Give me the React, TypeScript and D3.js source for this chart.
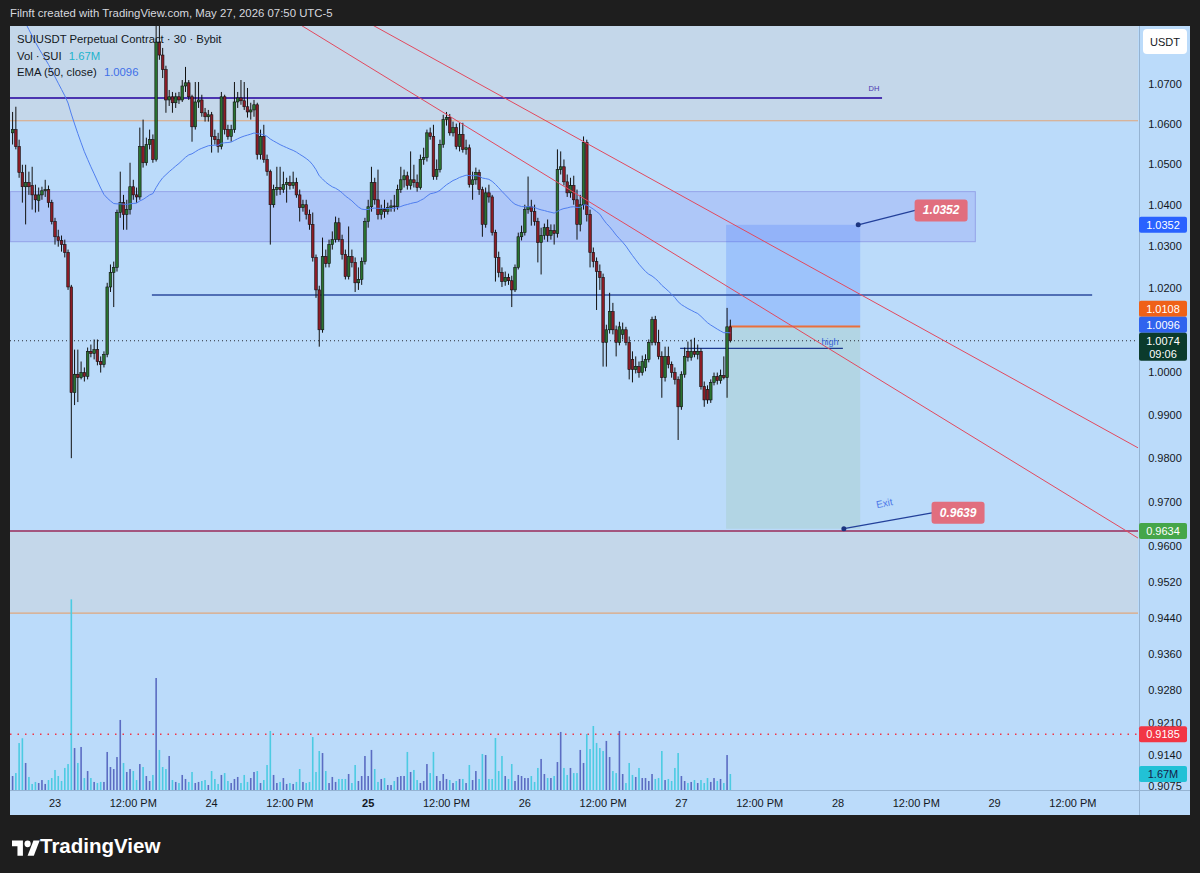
import React from 'react';
import * as d3 from 'd3';

// ---------- DATA ----------
const BAR_MS = 30 * 60 * 1000;
const T0 = Date.UTC(2026, 4, 23, 0, 0); // bar index 0 = May 23 00:00
const FIRST_BAR = -13;

// [open, high, low, close], 30-min bars, SUIUSDT
const candles: [number, number, number, number][] = [
  [1.0578,1.0630,1.0549,1.0586],[1.0586,1.0643,1.0537,1.0544],[1.0544,1.0561,1.0467,1.0480],[1.0480,1.0499,1.0406,1.0445],
  [1.0445,1.0499,1.0353,1.0455],[1.0455,1.0482,1.0425,1.0445],[1.0448,1.0494,1.0389,1.0425],[1.0425,1.0450,1.0382,1.0413],
  [1.0411,1.0443,1.0384,1.0425],[1.0425,1.0445,1.0413,1.0435],[1.0435,1.0462,1.0420,1.0438],[1.0438,1.0448,1.0394,1.0406],
  [1.0406,1.0413,1.0353,1.0360],
  [1.0360,1.0369,1.0304,1.0323],[1.0323,1.0340,1.0299,1.0314],[1.0314,1.0326,1.0287,1.0304],[1.0304,1.0316,1.0273,1.0285],
  [1.0285,1.0292,1.0195,1.0202],[1.0202,1.0207,0.9800,0.9952],[0.9952,1.0053,0.9923,0.9995],[0.9995,1.0053,0.9930,0.9987],
  [0.9987,1.0025,0.9983,0.9999],[0.9999,1.0011,0.9978,0.9990],[0.9990,1.0058,0.9983,1.0049],[1.0049,1.0065,1.0035,1.0044],
  [1.0044,1.0077,1.0030,1.0053],[1.0053,1.0077,1.0016,1.0025],[1.0025,1.0037,0.9999,1.0018],[1.0018,1.0049,1.0011,1.0042],
  [1.0042,1.0212,1.0035,1.0202],[1.0202,1.0256,1.0190,1.0237],[1.0237,1.0263,1.0154,1.0249],[1.0249,1.0389,1.0239,1.0382],
  [1.0382,1.0482,1.0369,1.0406],[1.0406,1.0425,1.0340,1.0377],[1.0377,1.0413,1.0340,1.0389],[1.0389,1.0504,1.0377,1.0445],
  [1.0445,1.0462,1.0413,1.0425],[1.0425,1.0443,1.0406,1.0420],[1.0420,1.0591,1.0413,1.0544],[1.0544,1.0611,1.0492,1.0504],
  [1.0504,1.0566,1.0497,1.0549],[1.0549,1.0586,1.0537,1.0561],[1.0561,1.0574,1.0504,1.0512],[1.0512,1.0852,1.0507,1.0806],
  [1.0806,1.0847,1.0761,1.0773],[1.0773,1.0791,1.0715,1.0736],[1.0736,1.0746,1.0628,1.0660],[1.0660,1.0685,1.0645,1.0668],
  [1.0668,1.0680,1.0628,1.0653],[1.0653,1.0678,1.0640,1.0668],[1.0668,1.0680,1.0650,1.0660],[1.0660,1.0710,1.0655,1.0695],
  [1.0695,1.0743,1.0680,1.0703],[1.0703,1.0710,1.0660,1.0668],[1.0668,1.0673,1.0556,1.0593],[1.0593,1.0705,1.0586,1.0655],
  [1.0655,1.0705,1.0640,1.0660],[1.0660,1.0673,1.0618,1.0628],[1.0628,1.0640,1.0606,1.0618],[1.0618,1.0635,1.0606,1.0623],
  [1.0623,1.0630,1.0529,1.0569],[1.0569,1.0586,1.0549,1.0561],[1.0561,1.0578,1.0529,1.0544],[1.0544,1.0680,1.0537,1.0668],
  [1.0668,1.0673,1.0574,1.0586],[1.0586,1.0598,1.0561,1.0569],[1.0569,1.0598,1.0556,1.0586],[1.0586,1.0705,1.0578,1.0655],
  [1.0655,1.0680,1.0640,1.0665],[1.0665,1.0710,1.0648,1.0658],[1.0658,1.0705,1.0635,1.0643],[1.0643,1.0690,1.0616,1.0630],
  [1.0630,1.0653,1.0611,1.0635],[1.0635,1.0660,1.0618,1.0648],[1.0648,1.0653,1.0512,1.0524],[1.0524,1.0586,1.0512,1.0569],
  [1.0569,1.0598,1.0504,1.0512],[1.0512,1.0524,1.0472,1.0482],[1.0482,1.0487,1.0304,1.0401],[1.0401,1.0450,1.0394,1.0438],
  [1.0438,1.0494,1.0423,1.0443],[1.0443,1.0494,1.0425,1.0438],[1.0438,1.0482,1.0430,1.0450],[1.0450,1.0467,1.0406,1.0455],
  [1.0455,1.0472,1.0438,1.0448],[1.0448,1.0482,1.0440,1.0455],[1.0455,1.0467,1.0418,1.0425],[1.0425,1.0438,1.0360,1.0394],
  [1.0394,1.0413,1.0384,1.0401],[1.0401,1.0413,1.0365,1.0377],[1.0377,1.0389,1.0340,1.0353],[1.0353,1.0382,1.0263,1.0273],
  [1.0273,1.0280,1.0176,1.0195],[1.0195,1.0205,1.0060,1.0100],[1.0100,1.0321,1.0093,1.0275],[1.0275,1.0292,1.0249,1.0258],
  [1.0258,1.0316,1.0249,1.0304],[1.0304,1.0336,1.0292,1.0316],[1.0316,1.0372,1.0309,1.0357],[1.0357,1.0369,1.0311,1.0316],
  [1.0316,1.0328,1.0268,1.0280],[1.0280,1.0292,1.0220,1.0227],[1.0227,1.0348,1.0220,1.0275],[1.0275,1.0292,1.0249,1.0261],
  [1.0261,1.0273,1.0190,1.0212],[1.0212,1.0249,1.0195,1.0220],[1.0220,1.0273,1.0207,1.0263],[1.0263,1.0369,1.0256,1.0360],
  [1.0360,1.0413,1.0345,1.0396],[1.0396,1.0494,1.0384,1.0455],[1.0455,1.0467,1.0401,1.0413],[1.0413,1.0487,1.0365,1.0377],
  [1.0377,1.0401,1.0365,1.0389],[1.0389,1.0413,1.0369,1.0384],[1.0384,1.0406,1.0377,1.0394],[1.0394,1.0413,1.0384,1.0398],
  [1.0398,1.0425,1.0384,1.0396],[1.0396,1.0450,1.0389,1.0438],[1.0438,1.0494,1.0430,1.0462],[1.0462,1.0487,1.0443,1.0472],
  [1.0472,1.0482,1.0438,1.0448],[1.0448,1.0532,1.0438,1.0462],[1.0462,1.0499,1.0443,1.0455],[1.0455,1.0475,1.0433,1.0443],
  [1.0443,1.0524,1.0438,1.0512],[1.0512,1.0541,1.0499,1.0517],[1.0517,1.0586,1.0507,1.0578],[1.0578,1.0591,1.0561,1.0569],
  [1.0569,1.0598,1.0462,1.0470],[1.0470,1.0512,1.0462,1.0487],[1.0487,1.0561,1.0480,1.0549],[1.0549,1.0623,1.0541,1.0611],
  [1.0611,1.0630,1.0596,1.0616],[1.0616,1.0625,1.0571,1.0578],[1.0578,1.0606,1.0569,1.0591],[1.0591,1.0601,1.0537,1.0544],
  [1.0544,1.0603,1.0532,1.0574],[1.0574,1.0603,1.0529,1.0537],[1.0537,1.0561,1.0524,1.0541],[1.0541,1.0549,1.0443,1.0450],
  [1.0450,1.0482,1.0413,1.0462],[1.0462,1.0492,1.0450,1.0480],[1.0480,1.0487,1.0425,1.0438],[1.0438,1.0445,1.0323,1.0353],
  [1.0353,1.0443,1.0345,1.0430],[1.0430,1.0450,1.0406,1.0420],[1.0420,1.0425,1.0326,1.0333],[1.0333,1.0340,1.0215,1.0273],
  [1.0273,1.0287,1.0225,1.0237],[1.0237,1.0249,1.0202,1.0215],[1.0215,1.0239,1.0205,1.0225],[1.0225,1.0234,1.0207,1.0217],
  [1.0217,1.0229,1.0154,1.0195],[1.0195,1.0256,1.0190,1.0249],[1.0249,1.0333,1.0244,1.0323],[1.0323,1.0350,1.0314,1.0333],
  [1.0333,1.0401,1.0326,1.0389],[1.0389,1.0470,1.0379,1.0396],[1.0396,1.0413,1.0350,1.0384],[1.0384,1.0401,1.0350,1.0360],
  [1.0360,1.0369,1.0261,1.0309],[1.0309,1.0345,1.0232,1.0326],[1.0326,1.0355,1.0316,1.0345],[1.0345,1.0365,1.0311,1.0326],
  [1.0326,1.0353,1.0316,1.0338],[1.0338,1.0353,1.0304,1.0331],[1.0331,1.0537,1.0321,1.0487],[1.0487,1.0532,1.0475,1.0494],
  [1.0494,1.0512,1.0448,1.0457],[1.0457,1.0475,1.0420,1.0430],[1.0430,1.0467,1.0418,1.0448],[1.0448,1.0472,1.0401,1.0413],
  [1.0413,1.0438,1.0316,1.0353],[1.0353,1.0425,1.0336,1.0401],[1.0401,1.0569,1.0389,1.0554],[1.0554,1.0561,1.0360,1.0377],
  [1.0377,1.0389,1.0249,1.0285],[1.0285,1.0297,1.0249,1.0263],[1.0263,1.0273,1.0147,1.0239],[1.0239,1.0256,1.0195,1.0225],
  [1.0225,1.0234,1.0013,1.0070],[1.0070,1.0112,1.0013,1.0100],[1.0100,1.0188,1.0091,1.0143],[1.0143,1.0164,1.0089,1.0100],
  [1.0100,1.0110,1.0037,1.0070],[1.0070,1.0119,1.0063,1.0107],[1.0089,1.0117,1.0077,1.0100],[1.0100,1.0107,1.0063,1.0070],
  [1.0070,1.0084,0.9983,1.0006],[1.0030,1.0049,0.9976,1.0006],[1.0006,1.0037,0.9997,1.0013],[1.0013,1.0025,0.9987,0.9999],
  [0.9999,1.0039,0.9992,1.0025],[1.0011,1.0042,1.0002,1.0030],[1.0030,1.0077,1.0023,1.0070],[1.0070,1.0131,1.0063,1.0124],
  [1.0124,1.0133,1.0063,1.0070],[1.0070,1.0100,1.0030,1.0037],[1.0037,1.0049,0.9940,0.9987],[0.9987,1.0060,0.9978,1.0037],
  [1.0037,1.0060,1.0009,1.0018],[1.0018,1.0025,0.9987,0.9999],[0.9999,1.0011,0.9971,0.9983],[0.9983,0.9990,0.9842,0.9919],
  [0.9919,1.0002,0.9912,0.9995],[0.9995,1.0058,0.9987,1.0037],[1.0049,1.0072,1.0025,1.0035],[1.0035,1.0077,1.0027,1.0049],
  [1.0049,1.0081,1.0035,1.0042],[1.0042,1.0065,1.0030,1.0049],[1.0049,1.0056,0.9959,0.9966],[0.9966,0.9978,0.9919,0.9935],
  [0.9959,0.9969,0.9926,0.9935],[0.9935,0.9983,0.9928,0.9976],[0.9976,0.9999,0.9969,0.9990],[0.9990,0.9999,0.9971,0.9980],
  [0.9980,1.0006,0.9973,0.9992],[0.9992,1.0037,0.9983,0.9987],[0.9987,1.0152,0.9940,1.0107],[1.0107,1.0124,1.0070,1.0074],
];

// volume in millions SUI, same bars
const volumes: number[] = [
  1.46,1.77,4.9,5.4,2.82,1.36,0.63,0.84,0.73,1.04,0.63,1.04,1.25,2.09,1.46,0.94,2.3,2.71,19.9,4.38,
  2.82,4.49,1.25,1.98,1.25,0.84,0.73,0.84,0.84,3.97,2.4,2.19,3.44,7.31,2.82,1.88,2.19,1.98,1.04,2.71,
  2.4,1.46,0.94,1.57,11.69,4.18,2.4,2.19,3.55,1.04,0.84,0.73,1.57,1.15,0.84,1.88,0.73,0.84,0.94,1.04,
  0.52,1.98,1.15,0.63,1.57,1.77,0.94,0.73,1.15,1.36,0.73,1.57,0.84,1.25,1.88,1.98,0.73,1.04,2.61,6.16,
  1.57,0.73,0.84,1.25,0.63,0.73,0.63,0.84,2.19,0.84,0.73,0.84,5.53,1.88,4.07,3.86,1.98,0.73,1.36,0.84,
  1.15,1.15,1.15,1.67,0.73,2.61,0.94,1.46,3.55,1.46,4.18,2.19,0.84,1.15,1.25,0.52,0.52,0.94,1.36,
  1.46,1.46,3.97,1.88,2.09,1.04,0.73,0.94,2.71,1.77,3.97,1.46,0.94,1.67,1.15,1.04,0.73,0.94,1.15,1.15,
  0.73,2.61,1.04,1.98,1.15,3.76,3.65,1.15,1.15,5.43,1.98,3.55,1.46,1.15,2.71,0.94,1.57,1.46,1.25,1.25,
  1.46,0.84,2.3,3.24,1.67,1.25,1.25,1.46,2.92,6.06,2.3,1.57,2.3,1.77,1.77,4.18,2.82,5.85,4.28,6.68,
  4.91,4.38,4.07,5.12,3.44,1.98,1.77,6.16,1.67,0.73,2.82,1.57,1.36,2.3,1.25,1.25,0.94,1.67,1.15,1.25,
  4.07,1.04,1.15,0.94,2.3,3.86,1.46,0.94,0.73,0.84,1.04,0.73,1.04,0.73,1.25,0.84,1.25,0.94,1.15,0.73,
  3.65,1.67,
];

const priceTicks = [1.07, 1.06, 1.05, 1.04, 1.03, 1.02, 1.0, 0.99, 0.98, 0.97, 0.96, 0.952, 0.944, 0.936, 0.928, 0.921, 0.914, 0.9075];

const emaPeriod = 50;
const emaSeed = 1.0932; // EMA value before the first visible bar
const emaLast = 1.0096;
const lastPrice = 1.0074;
const lastVolume = 1.67;
const countdown = '09:06';

// Drawings: [bar index, price]
const dhLevel = { price: 1.0665, endBar: 253.5 };
const zoneUpperEdge = 1.0608;
const zoneLowerEdge = 0.945;
const exitLevel = 0.9634;
const alertLevel = 0.9185;
const supplyBox = { top: 1.0433, bottom: 1.0311, endBar: 282.1 };
const midLevel = { price: 1.0183, startBar: 29.7, endBar: 317.9 };
const highLevel = { price: 1.0056, startBar: 191.6, endBar: 241.5 };
const trendLines: [number, number][][] = [
  [[112.8, 1.066], [326.4, 0.9643]],
  [[138.9, 1.066], [326.4, 0.9847]],
];
const position = { startBar: 205.7, endBar: 246.8, entry: 1.0108, stop: 1.0352, target: 0.9639 };
const callouts = [
  { at: [246.2, 1.0352], label: [271.6, 1.0387], text: '1.0352' },
  { at: [241.8, 0.9639], label: [276.8, 0.9675], text: '0.9639' },
];
const exitNote = { at: [254.2, 0.9697], text: 'Exit' };

// ---------- LAYOUT ----------
const W = 1200, H = 873;
const P = { left: 10, right: 1138, top: 26, bottom: 790 };
const AX = { left: 1139, right: 1190, bottom: 815 };
const FONT = '"Liberation Sans", Arial, sans-serif';
const BG = '#bbdbfa';

export default function App() {
  const x = d3.scaleUtc().domain([new Date(T0), new Date(T0 + 6 * 86400000)]).range([55, 994.6]);
  const y = d3.scaleLog().domain([1.07, 0.96]).range([84, 546]);
  const vy = d3.scaleLinear().domain([0, 1.67]).range([790, 774]);
  const X = (bar: number) => x(new Date(T0 + bar * BAR_MS));

  const bars = candles.map((c, k) => ({ bar: FIRST_BAR + k, o: c[0], h: c[1], l: c[2], c: c[3], v: volumes[k] ?? 0 }));

  const alpha = 2 / (emaPeriod + 1);
  let e = emaSeed;
  const ema = bars.map(b => { e = e + alpha * (b.c - e); return { bar: b.bar, v: e }; });
  const emaPath = d3.line<{ bar: number; v: number }>().x(d => X(d.bar)).y(d => y(d.v))(ema) || '';

  const timeTicks = d3.utcHour.every(12)!.range(new Date(T0), new Date(T0 + 6.6 * 86400000));

  type Lab = { v: number; yy: number; text: string; sub?: string; fill: string; color: string };
  const labels: Lab[] = [
    { v: position.stop, yy: y(position.stop), text: '1.0352', fill: '#2962ff', color: '#fff' },
    { v: position.entry, yy: y(position.entry), text: '1.0108', fill: '#ef6118', color: '#fff' },
    { v: emaLast, yy: y(emaLast), text: emaLast.toFixed(4), fill: '#2f63ee', color: '#fff' },
    { v: lastPrice, yy: y(lastPrice), text: lastPrice.toFixed(4), sub: countdown, fill: '#0b3b2c', color: '#fff' },
    { v: exitLevel, yy: y(exitLevel), text: exitLevel.toFixed(4), fill: '#45a649', color: '#fff' },
    { v: alertLevel, yy: y(alertLevel), text: alertLevel.toFixed(4), fill: '#f23645', color: '#fff' },
    { v: lastVolume, yy: vy(lastVolume), text: lastVolume.toFixed(2) + 'M', fill: '#22c1d6', color: '#16224a' },
  ];
  const boxes = labels.map(l => ({ ...l, top: l.yy - 8, bottom: l.yy + (l.sub ? 20 : 8) }));
  const sorted = [...boxes].sort((a, b) => b.yy - a.yy);
  let prevTop = Infinity;
  for (const b of sorted) {
    if (b.bottom > prevTop) { const d = b.bottom - prevTop; b.top -= d; b.bottom -= d; }
    prevTop = b.top;
  }

  const trend = trendLines.map(([a, b]) => {
    const x1 = X(a[0]), y1 = y(a[1]), x2 = X(b[0]), y2 = y(b[1]);
    const m = (y2 - y1) / (x2 - x1);
    return { x1: P.left, y1: y1 + m * (P.left - x1), x2: P.right, y2: y1 + m * (P.right - x1) };
  });

  const upColor = '#2a7230', downColor = '#8c1c26';
  const volUp = '#5b6cc2', volDown = '#4ccbe2';

  return (
    <div style={{ position: 'absolute', left: 0, top: 0 }}>
      <svg width={W} height={H} style={{ display: 'block', fontFamily: FONT }}>
        <defs>
          <clipPath id="plot"><rect x={P.left} y={P.top} width={P.right - P.left} height={P.bottom - P.top} /></clipPath>
        </defs>
        <rect x={0} y={0} width={W} height={H} fill="#1e1e1e" />
        <text x={10} y={13} dominantBaseline="central" fontSize={11.4} fill="#d6d8de">Filnft created with TradingView.com, May 27, 2026 07:50 UTC-5</text>
        <rect x={P.left} y={P.top} width={AX.right - P.left} height={AX.bottom - P.top} fill={BG} />

        <g clipPath="url(#plot)">
          <rect x={P.left} y={P.top} width={P.right - P.left} height={y(zoneUpperEdge) - P.top} fill="#c4d7ea" />
          <rect x={P.left} y={y(exitLevel)} width={P.right - P.left} height={y(zoneLowerEdge) - y(exitLevel)} fill="#c4d7ea" />
          <line x1={P.left} x2={P.right} y1={y(zoneUpperEdge)} y2={y(zoneUpperEdge)} stroke="#dfa77c" strokeWidth={1} />
          <line x1={P.left} x2={P.right} y1={y(zoneLowerEdge)} y2={y(zoneLowerEdge)} stroke="#dfa77c" strokeWidth={1.2} />

          <rect x={P.left} y={y(supplyBox.top)} width={X(supplyBox.endBar) - P.left} height={y(supplyBox.bottom) - y(supplyBox.top)}
            fill="rgba(110,100,240,0.17)" stroke="rgba(90,80,200,0.35)" strokeWidth={1} />

          <rect x={X(position.startBar)} y={y(position.stop)} width={X(position.endBar) - X(position.startBar)} height={y(position.entry) - y(position.stop)} fill="rgba(41,98,255,0.2)" />
          <rect x={X(position.startBar)} y={y(position.entry)} width={X(position.endBar) - X(position.startBar)} height={y(position.target) - y(position.entry)} fill="rgba(150,195,165,0.25)" />

          {bars.map(b => (
            <rect key={'v' + b.bar} x={X(b.bar) - 0.8} width={1.6} y={vy(b.v)} height={790 - vy(b.v)} fill={b.c >= b.o ? volUp : volDown} />
          ))}

          <line x1={P.left} x2={X(dhLevel.endBar)} y1={y(dhLevel.price)} y2={y(dhLevel.price)} stroke="#4b35b0" strokeWidth={2} />
          <line x1={X(midLevel.startBar)} x2={X(midLevel.endBar)} y1={y(midLevel.price)} y2={y(midLevel.price)} stroke="#2c4b9e" strokeWidth={1.5} />
          <line x1={X(highLevel.startBar)} x2={X(highLevel.endBar)} y1={y(highLevel.price)} y2={y(highLevel.price)} stroke="#1f3b8f" strokeWidth={1.3} />
          <line x1={P.left} x2={P.right} y1={y(exitLevel)} y2={y(exitLevel)} stroke="#9a2a58" strokeWidth={1.5} />
          <line x1={P.left} x2={P.right} y1={y(alertLevel)} y2={y(alertLevel)} stroke="#f23645" strokeWidth={1.5} strokeDasharray="1.5,6" />
          <line x1={P.left} x2={P.right} y1={y(lastPrice)} y2={y(lastPrice)} stroke="#2a2e39" strokeWidth={1} strokeDasharray="1,3" />
          <line x1={X(position.startBar) + 3} x2={X(position.endBar)} y1={y(position.entry)} y2={y(position.entry)} stroke="#ea6f3c" strokeWidth={2} />

          {bars.map(b => {
            const cx = X(b.bar);
            const top = y(Math.max(b.o, b.c)), bot = y(Math.min(b.o, b.c));
            return (
              <g key={'c' + b.bar}>
                <line x1={cx} x2={cx} y1={y(b.h)} y2={y(b.l)} stroke="#111" strokeWidth={1} />
                <rect x={cx - 1.3} width={2.6} y={top} height={Math.max(0.8, bot - top)} fill={b.c >= b.o ? upColor : downColor} stroke="#111" strokeWidth={0.6} />
              </g>
            );
          })}

          <path d={emaPath} fill="none" stroke="#4f7eef" strokeWidth={1} />

          {trend.map((t, k) => <line key={'t' + k} {...t} stroke="#e2495e" strokeWidth={1} />)}

          <text x={X(dhLevel.endBar) - 8} y={y(dhLevel.price) - 7} textAnchor="middle" fontSize={7.5} fill="#4b35b0">DH</text>
          <text x={X(highLevel.endBar) - 13} y={y(highLevel.price) - 6} textAnchor="middle" dominantBaseline="central" fontSize={9} fill="#3a66d8">high</text>
          <text transform={`translate(${X(exitNote.at[0])},${y(exitNote.at[1])}) rotate(-12)`} textAnchor="middle" dominantBaseline="central" fontSize={10} fill="#4c78e8">{exitNote.text}</text>

          {callouts.map((c, k) => {
            const ax = X(c.at[0]), ay = y(c.at[1]);
            const lx = X(c.label[0]), ly = y(c.label[1]);
            return (
              <g key={'co' + k}>
                <line x1={ax} y1={ay} x2={lx - 26} y2={ly} stroke="#23409a" strokeWidth={1.3} />
                <circle cx={ax} cy={ay} r={2.5} fill="#1c3580" />
                <rect x={lx - 26.5} y={ly - 11} width={53} height={22} rx={3} fill="#e16e7e" />
                <text x={lx} y={ly} textAnchor="middle" dominantBaseline="central" fontSize={12} fontWeight="bold" fontStyle="italic" fill="#fff">{c.text}</text>
              </g>
            );
          })}
        </g>

        <g fontSize={11.3} fill="#131722">
          <text x={17} y={39} dominantBaseline="central">SUIUSDT Perpetual Contract · 30 · Bybit</text>
          <text x={17} y={56} dominantBaseline="central">Vol · SUI <tspan fill="#22b3cc" dx={4}>{lastVolume.toFixed(2)}M</tspan></text>
          <text x={17} y={72} dominantBaseline="central">EMA (50, close) <tspan fill="#3f6fe8" dx={4}>{emaLast.toFixed(4)}</tspan></text>
        </g>

        <line x1={AX.left + 0.5} x2={AX.left + 0.5} y1={P.top} y2={AX.bottom} stroke="#95b3d2" strokeWidth={1} />
        <line x1={P.left} x2={AX.right} y1={P.bottom + 0.5} y2={P.bottom + 0.5} stroke="#95b3d2" strokeWidth={1} />

        <rect x={1143} y={29} width={44} height={25} rx={4} fill="#ffffff" />
        <text x={1165} y={42} textAnchor="middle" dominantBaseline="central" fontSize={11} fill="#131722">USDT</text>
        {priceTicks.map(p => (
          <text key={'pt' + p} x={1165} y={y(p)} textAnchor="middle" dominantBaseline="central" fontSize={11} fill="#131722">{p.toFixed(4)}</text>
        ))}
        {boxes.map((b, k) => (
          <g key={'pl' + k}>
            <rect x={AX.left} y={b.top} width={48} height={b.bottom - b.top} rx={2} fill={b.fill} />
            <text x={AX.left + 24} y={b.top + 8} textAnchor="middle" dominantBaseline="central" fontSize={11} fill={b.color}>{b.text}</text>
            {b.sub && <text x={AX.left + 24} y={b.top + 21} textAnchor="middle" dominantBaseline="central" fontSize={11} fill={b.color}>{b.sub}</text>}
          </g>
        ))}

        {timeTicks.map(t => {
          const h = t.getUTCHours();
          const day = t.getUTCDate();
          const label = h === 0 ? String(day) : '12:00 PM';
          const bold = h === 0 && day === 25;
          return (
            <text key={'tt' + t.getTime()} x={x(t)} y={803} textAnchor="middle" dominantBaseline="central" fontSize={11} fontWeight={bold ? 'bold' : 'normal'} fill="#131722">{label}</text>
          );
        })}

        <g transform="translate(12,837) scale(0.78,0.85)" fill="#ffffff">
          <path d="M14 22H7V11H0V4h14v18z" />
          <path d="M28 22h-8l7.5-18h8L28 22z" />
          <circle cx={20} cy={8} r={4} />
        </g>
        <text x={40} y={845} dominantBaseline="central" fontSize={20.5} fontWeight="bold" fill="#ffffff">TradingView</text>
      </svg>
    </div>
  );
}
